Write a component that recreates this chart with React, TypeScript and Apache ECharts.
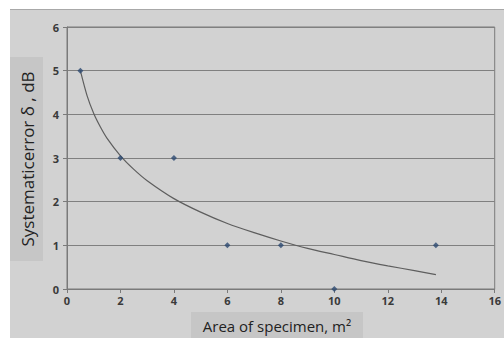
import React, { useEffect, useRef } from "react";
import * as echarts from "echarts";

const pointX = [0.5, 2, 4, 6, 8, 10, 13.8];
const pointY = [5, 3, 3, 1, 1, 0, 1];

const trendX = [0.5, 0.75, 1, 1.25, 1.5, 2, 2.5, 3, 4, 5, 6, 7, 8, 9, 10, 11, 12, 13, 13.8];
const trendY = [5.0, 4.43, 4.02, 3.71, 3.45, 3.05, 2.74, 2.48, 2.07, 1.76, 1.5, 1.29, 1.1, 0.93, 0.79, 0.65, 0.53, 0.42, 0.33];

const xTitle = "Area of specimen, m²";
const yTitle = "Systematicerror δ , dB";

export default function App() {
  const ref = useRef<HTMLDivElement>(null);
  useEffect(() => {
    const chart = echarts.init(ref.current!, null, { renderer: "svg" });
    chart.setOption({
      animation: false,
      backgroundColor: "#ffffff",
      graphic: [
        { type: "rect", shape: { x: 10, y: 9, width: 494, height: 329 }, style: { fill: "#d2d2d2" }, z: -10 },
        { type: "line", shape: { x1: 10, y1: 9.5, x2: 504, y2: 9.5 }, style: { stroke: "#a8a8a8", lineWidth: 1 }, z: -9 },
        { type: "rect", shape: { x: 10, y: 57, width: 33, height: 204 }, style: { fill: "#c6c6c6" }, z: -8 },
        {
          type: "text",
          x: 27,
          y: 159,
          rotation: Math.PI / 2,
          style: { text: yTitle, font: "17px 'Open Sans', 'DejaVu Sans', sans-serif", fill: "#222", align: "center", verticalAlign: "middle" },
        },
        { type: "rect", shape: { x: 191, y: 312, width: 172, height: 26 }, style: { fill: "#c6c6c6" }, z: -8 },
        {
          type: "text",
          x: 277,
          y: 326,
          style: { text: xTitle, font: "15px 'Open Sans', 'DejaVu Sans', sans-serif", fill: "#222", align: "center", verticalAlign: "middle" },
        },
      ],
      grid: { left: 67, right: 5, top: 27, bottom: 49, show: true, borderColor: "#7a7a7a", borderWidth: 1, backgroundColor: "transparent" },
      xAxis: {
        type: "value",
        min: 0,
        max: 16,
        interval: 2,
        axisLine: { show: true, lineStyle: { color: "#7a7a7a" } },
        axisTick: { show: true, length: 4, lineStyle: { color: "#7a7a7a" } },
        axisLabel: { color: "#3a3a3a", fontSize: 11, fontWeight: "bold", margin: 6, fontFamily: "'Open Sans', sans-serif" },
        splitLine: { show: false },
      },
      yAxis: {
        type: "value",
        min: 0,
        max: 6,
        interval: 1,
        axisLine: { show: true, lineStyle: { color: "#7a7a7a" } },
        axisTick: { show: true, length: 4, lineStyle: { color: "#7a7a7a" } },
        axisLabel: { color: "#3a3a3a", fontSize: 11, fontWeight: "bold", margin: 8, fontFamily: "'Open Sans', sans-serif" },
        splitLine: { show: true, lineStyle: { color: "#808080", width: 1 } },
      },
      series: [
        {
          type: "line",
          data: trendX.map((x, i) => [x, trendY[i]]),
          smooth: 0.3,
          showSymbol: false,
          lineStyle: { color: "#5e5e5e", width: 1.2 },
          z: 2,
        },
        {
          type: "scatter",
          data: pointX.map((x, i) => [x, pointY[i]]),
          symbol: "diamond",
          symbolSize: 6,
          itemStyle: { color: "#2c4870" },
          z: 3,
        },
      ],
    });
    return () => chart.dispose();
  }, []);
  return <div ref={ref} style={{ width: 504, height: 338, position: "absolute", left: 0, top: 0 }} />;
}
